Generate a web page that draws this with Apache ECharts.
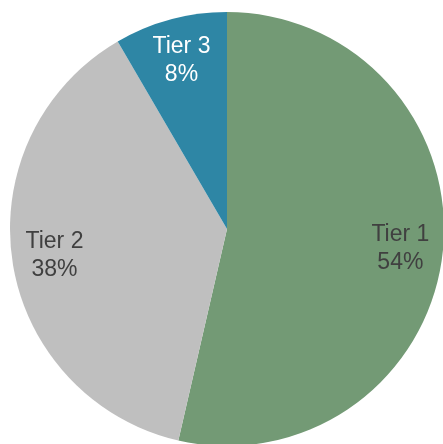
<!DOCTYPE html>
<html>
<head>
<meta charset="utf-8">
<script src="https://cdn.jsdelivr.net/npm/echarts@6/dist/echarts.min.js"></script>
<style>html,body{margin:0;padding:0;background:#fff}#c{width:443px;height:444px}</style>
</head>
<body>
<div id="c"></div>
<script>
var categories = ['Tier 1', 'Tier 2', 'Tier 3'];
var values = [53.6, 38.0, 8.4];
var colors = ['#739A75', '#BFBFBF', '#2E86A5'];
var labelColors = ['#404040', '#404040', '#FFFFFF'];

var data = categories.map(function (c, i) {
  return { name: c, value: values[i], itemStyle: { color: colors[i] } };
});
var labelData = categories.map(function (c, i) {
  return { name: c, value: values[i], label: { color: labelColors[i] } };
});

var chart = echarts.init(document.getElementById('c'), null, { renderer: 'canvas' });
chart.setOption({
  animation: false,
  series: [
    {
      type: 'pie',
      center: [227, 229],
      radius: [0, 217],
      startAngle: 90,
      clockwise: true,
      silent: true,
      label: { show: false },
      labelLine: { show: false },
      itemStyle: { borderWidth: 0 },
      data: data
    },
    {
      type: 'pie',
      center: [227, 229],
      radius: [126, 217],
      startAngle: 90,
      clockwise: true,
      silent: true,
      itemStyle: { color: 'rgba(0,0,0,0)', borderWidth: 0 },
      label: {
        show: true,
        position: 'inside',
        formatter: function (p) { return p.name + '\n' + Math.round(p.percent) + '%'; },
        fontFamily: 'Liberation Sans, Arial, sans-serif',
        fontSize: 23,
        lineHeight: 28,
        align: 'center'
      },
      labelLine: { show: false },
      data: labelData
    }
  ]
});
</script>
</body>
</html>
